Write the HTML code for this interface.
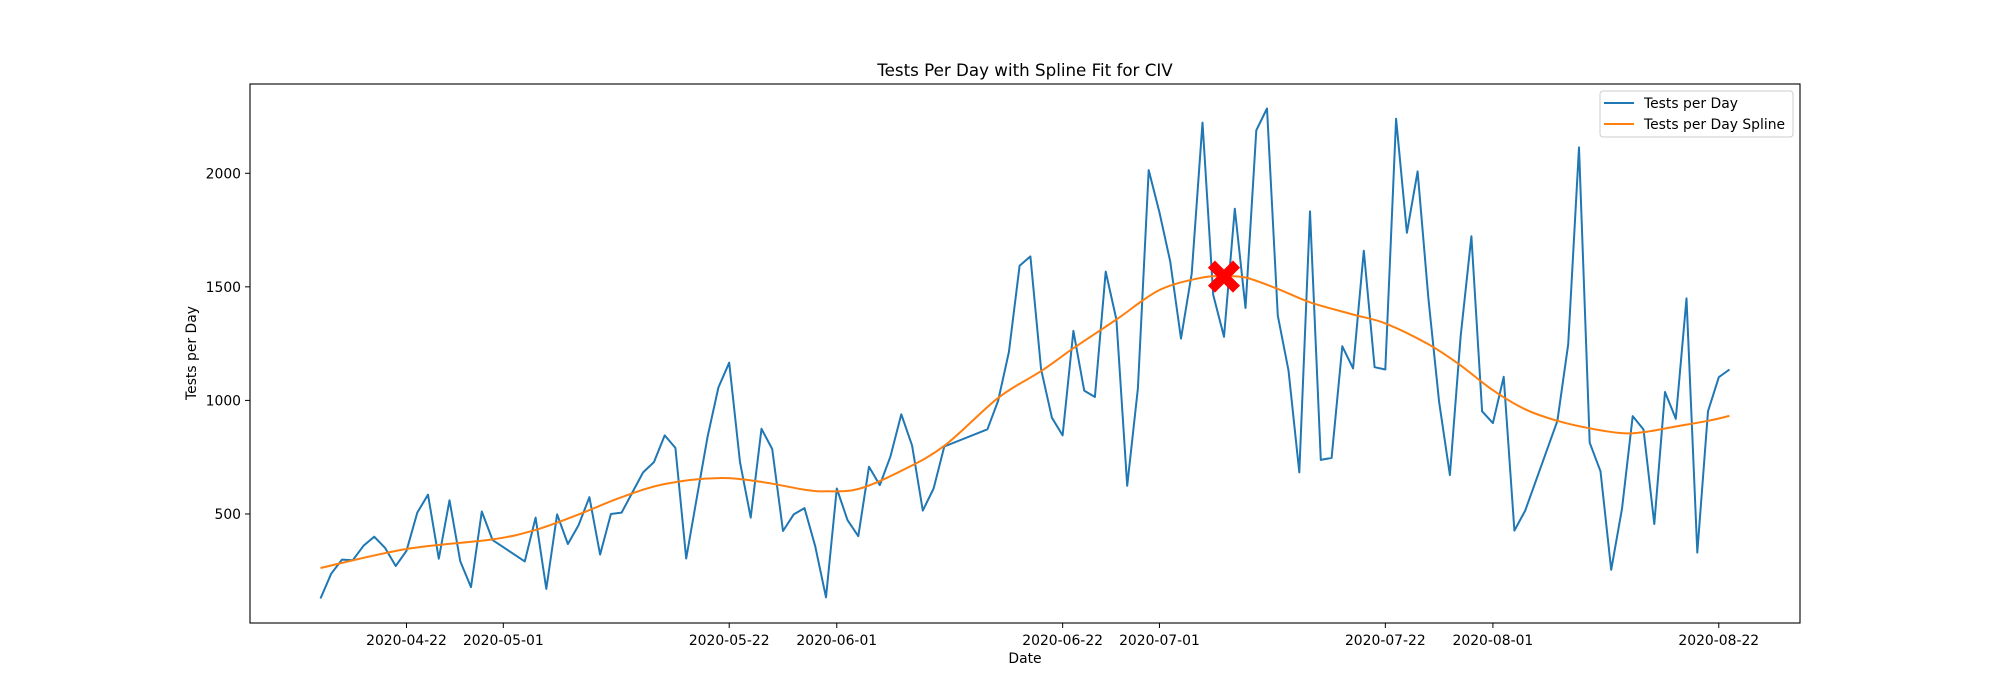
<!DOCTYPE html>
<html><head><meta charset="utf-8"><style>
html,body{margin:0;padding:0;background:#fff;}
svg{display:block;font-family:"DejaVu Sans","Liberation Sans",sans-serif;}
</style></head><body>
<svg id="chart" width="2000" height="700" viewBox="0 0 2000 700">
<rect x="0" y="0" width="2000" height="700" fill="#fff"/>
<text x="1025" y="76" font-size="16.7" text-anchor="middle">Tests Per Day with Spline Fit for CIV</text>
<g id="xticks"></g>
<g id="yticks"></g>
<g id="plot"></g>
<rect x="250" y="84" width="1550" height="539" fill="none" stroke="#000" stroke-width="1.1"/>
<text x="1025" y="663" font-size="13.9" text-anchor="middle">Date</text>
<text x="196" y="353" font-size="13.9" text-anchor="middle" transform="rotate(-90 196 353)">Tests per Day</text>
<g>
<rect x="1600" y="91" width="193" height="46" rx="3" fill="#fff" fill-opacity="0.8" stroke="#ccc" stroke-width="1"/>
<line x1="1604" y1="103" x2="1634" y2="103" stroke="#1f77b4" stroke-width="2"/>
<text x="1644" y="108" font-size="13.9">Tests per Day</text>
<line x1="1604" y1="124" x2="1634" y2="124" stroke="#ff7f0e" stroke-width="2"/>
<text x="1644" y="129" font-size="13.9">Tests per Day Spline</text>
</g>
</svg>
<script>
const days = [0,1,2,3,4,5,6,7,8,9,10,11,12,13,14,15,16,19,20,21,22,23,24,25,26,27,28,29,30,31,32,33,34,35,36,37,38,39,40,41,42,43,44,45,46,47,48,49,50,51,52,53,54,55,56,57,58,62,63,64,65,66,67,68,69,70,71,72,73,74,75,76,77,78,79,80,81,82,83,84,85,86,87,88,89,90,91,92,93,94,95,96,97,98,99,100,101,102,103,104,105,106,107,108,109,110,111,112,115,116,117,118,119,120,121,122,123,124,125,126,127,128,129,130,131];
const tests = [128,237,299,296,360,400,351,271,338,506,585,303,560,291,178,511,385,291,484,170,498,368,451,574,321,500,506,595,683,728,846,791,304,574,843,1057,1166,728,484,875,786,425,498,526,358,133,612,473,402,708,627,754,939,801,515,612,797,873,998,1213,1593,1634,1137,924,846,1306,1043,1015,1567,1356,624,1053,2014,1827,1612,1272,1558,2223,1465,1280,1844,1407,2189,2285,1373,1132,683,1832,738,747,1238,1141,1659,1146,1136,2240,1738,2008,1449,994,671,1280,1723,952,900,1104,427,515,910,1247,2114,814,688,254,523,931,872,456,1037,919,1449,330,952,1102,1136];
const splineDays = [0,8,16,20,24,28,32,37,41,45,47,50,54,58,63,67,70,74,78,82,84,86,89,92,96,99,103,106,109,112,115,118,121,123,126,129,131];
const splineVals = [262,346,388,430,498,574,632,658,641,607,600,610,690,800,1011,1129,1230,1356,1486,1541,1546,1541,1491,1432,1378,1339,1247,1154,1045,961,910,877,856,860,885,910,932];
const peakDay = [84];
const peakVal = [1545];
const xTickDays = [8,17,38,48,69,78,99,109,130];
const xTickLabels = ["2020-04-22","2020-05-01","2020-05-22","2020-06-01","2020-06-22","2020-07-01","2020-07-22","2020-08-01","2020-08-22"];
const yTicks = [500,1000,1500,2000];

const X0=250,X1=1800,Y0=84,Y1=623;
const dMin=-6.55,dMax=137.55,vMin=20,vMax=2393;
function xs(d){return X0+(d-dMin)/(dMax-dMin)*(X1-X0);}
function ys(v){return Y1-(v-vMin)/(vMax-vMin)*(Y1-Y0);}
const NS="http://www.w3.org/2000/svg";
function mk(tag,attrs,parent){const e=document.createElementNS(NS,tag);for(const k in attrs)e.setAttribute(k,attrs[k]);parent.appendChild(e);return e;}

const xg=document.getElementById('xticks');
xTickDays.forEach((d,i)=>{
  const t=mk('line',{x1:xs(d),x2:xs(d),y1:Y1,y2:Y1+5,stroke:'#000','stroke-width':1},xg);
  
  
  const l=mk('text',{x:xs(d),y:Y1+22,'font-size':13.9,'text-anchor':'middle'},xg);
  l.textContent=xTickLabels[i];
  
  
});
const yg=document.getElementById('yticks');
yTicks.forEach(v=>{
  const t=mk('line',{x1:X0-5,x2:X0,y1:ys(v),y2:ys(v),stroke:'#000','stroke-width':1},yg);
  
  
  const l=mk('text',{x:X0-9,y:ys(v)+5,'font-size':13.9,'text-anchor':'end'},yg);
  l.textContent=String(v);
  
  
});
const pg=document.getElementById('plot');
const pts=days.map((d,i)=>xs(d).toFixed(1)+','+ys(tests[i]).toFixed(1)).join(' ');
const pl=mk('polyline',{points:pts,fill:'none',stroke:'#1f77b4','stroke-width':2,'stroke-linejoin':'round'},pg);


const P=splineDays.map((d,i)=>[xs(d),ys(splineVals[i])]);
let dstr='M'+P[0][0].toFixed(1)+','+P[0][1].toFixed(1);
for(let i=0;i<P.length-1;i++){
  const p0=P[Math.max(0,i-1)],p1=P[i],p2=P[i+1],p3=P[Math.min(P.length-1,i+2)];
  const c1=[p1[0]+(p2[0]-p0[0])/6,p1[1]+(p2[1]-p0[1])/6];
  const c2=[p2[0]-(p3[0]-p1[0])/6,p2[1]-(p3[1]-p1[1])/6];
  dstr+=' C'+c1.map(v=>v.toFixed(1)).join(',')+' '+c2.map(v=>v.toFixed(1)).join(',')+' '+p2.map(v=>v.toFixed(1)).join(',');
}
const sp=mk('path',{d:dstr,fill:'none',stroke:'#ff7f0e','stroke-width':2},pg);


const mx=xs(peakDay[0]),my=ys(peakVal[0]);
const m=mk('path',{d:`M${mx-9},${my-9} L${mx+9},${my+9} M${mx+9},${my-9} L${mx-9},${my+9}`,stroke:'#ff0000','stroke-width':10,'stroke-linecap':'square',fill:'none'},pg);


</script>
</body></html>
